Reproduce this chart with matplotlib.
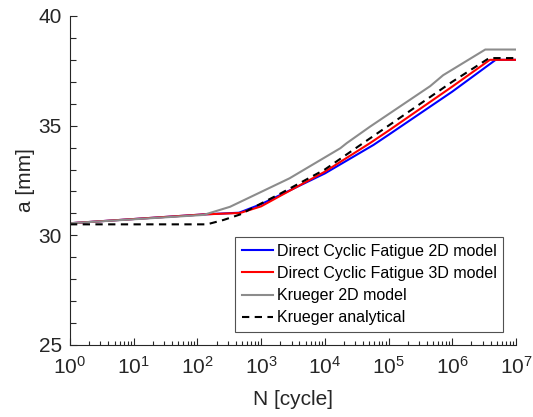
import numpy as np
import matplotlib
matplotlib.use('Agg')
import matplotlib.pyplot as plt
from matplotlib.ticker import FixedLocator, MultipleLocator, NullFormatter

plt.rcParams['font.family'] = ['Liberation Sans', 'DejaVu Sans']
plt.rcParams['mathtext.fontset'] = 'custom'
plt.rcParams['mathtext.rm'] = 'Liberation Sans'
plt.rcParams['mathtext.it'] = 'Liberation Sans:italic'

# crack length a [mm] against number of cycles N
N_dcf2d = [1, 120, 450, 1e3, 2e3, 1e4, 5.8e4, 1e5, 1e6, 4.8e6, 1e7]
a_dcf2d = [30.55, 30.95, 31.03, 31.42, 31.84, 32.82, 34.12, 34.58, 36.55, 38.0, 38.0]

N_dcf3d = [1, 120, 470, 1e3, 2e3, 1e4, 5.1e4, 1e5, 1e6, 3.9e6, 1e7]
a_dcf3d = [30.55, 30.95, 31.02, 31.32, 31.8, 32.9, 34.2, 34.77, 36.78, 38.0, 38.0]

N_kr2d = [1, 125, 325, 2.8e3, 1.75e4, 2.2e4, 5.1e4, 4.5e5, 7.2e5, 3.3e6, 1e7]
a_kr2d = [30.55, 30.93, 31.3, 32.6, 33.97, 34.2, 34.95, 36.8, 37.3, 38.47, 38.47]

N_kran = [1, 141, 257, 468, 1e3, 2e3, 1e4, 5e4, 1e5, 1e6, 3.8e6, 1e7]
a_kran = [30.5, 30.5, 30.7, 30.95, 31.45, 31.9, 33.0, 34.4, 35.0, 37.0, 38.08, 38.08]

exps = range(0, 8)
xticklabels = [r'$10^{%d}$' % e for e in exps]

fig = plt.figure(figsize=(5.33, 4.17), dpi=100)
ax = fig.add_axes([0.1313, 0.1727, 0.8367, 0.789])

ax.semilogx(N_dcf2d, a_dcf2d, color=(0, 0, 1), lw=1.5, label='Direct Cyclic Fatigue 2D model')
ax.semilogx(N_dcf3d, a_dcf3d, color=(1, 0, 0), lw=1.5, label='Direct Cyclic Fatigue 3D model')
ax.semilogx(N_kr2d, a_kr2d, color=(0.55, 0.55, 0.55), lw=1.5, label='Krueger 2D model')
ax.semilogx(N_kran, a_kran, color='k', lw=1.5, ls=(0, (3.5, 2.6)), label='Krueger analytical')

ax.set_xlim(1, 1e7)
ax.set_ylim(25, 40)
ax.set_xticks([10.0**e for e in exps])
ax.set_xticklabels(xticklabels)
minor = [m * 10.0**e for e in range(0, 7) for m in range(2, 10)]
ax.xaxis.set_minor_locator(FixedLocator(minor))
ax.xaxis.set_minor_formatter(NullFormatter())
ax.set_yticks([25, 30, 35, 40])
ax.yaxis.set_minor_locator(MultipleLocator(1))

tc = (0.15, 0.15, 0.15)
for side in ['top', 'right']:
    ax.spines[side].set_visible(False)
for side in ['left', 'bottom']:
    ax.spines[side].set_color(tc)
    ax.spines[side].set_linewidth(0.8)
ax.tick_params(which='both', direction='in', colors=tc, labelsize=15, width=0.8)
ax.tick_params(which='major', length=5)
ax.tick_params(axis='x', which='major', pad=8)
ax.tick_params(axis='y', which='major', pad=6)
ax.tick_params(which='minor', length=3)
ax.tick_params(axis='y', which='minor', length=4)

ax.set_xlabel('N [cycle]', fontsize=15, color=tc, labelpad=9)
ax.set_ylabel('a [mm]', fontsize=15, color=tc, labelpad=2)

leg = ax.legend(loc='lower right', bbox_to_anchor=(0.9715, 0.04),
                fontsize=11.5, frameon=True, fancybox=False, handlelength=1.95,
                handletextpad=0.25, labelspacing=0.45, borderpad=0.4, borderaxespad=0)
leg.get_frame().set_edgecolor(tc)
leg.get_frame().set_linewidth(0.8)

fig.savefig('out.png', dpi=100)
